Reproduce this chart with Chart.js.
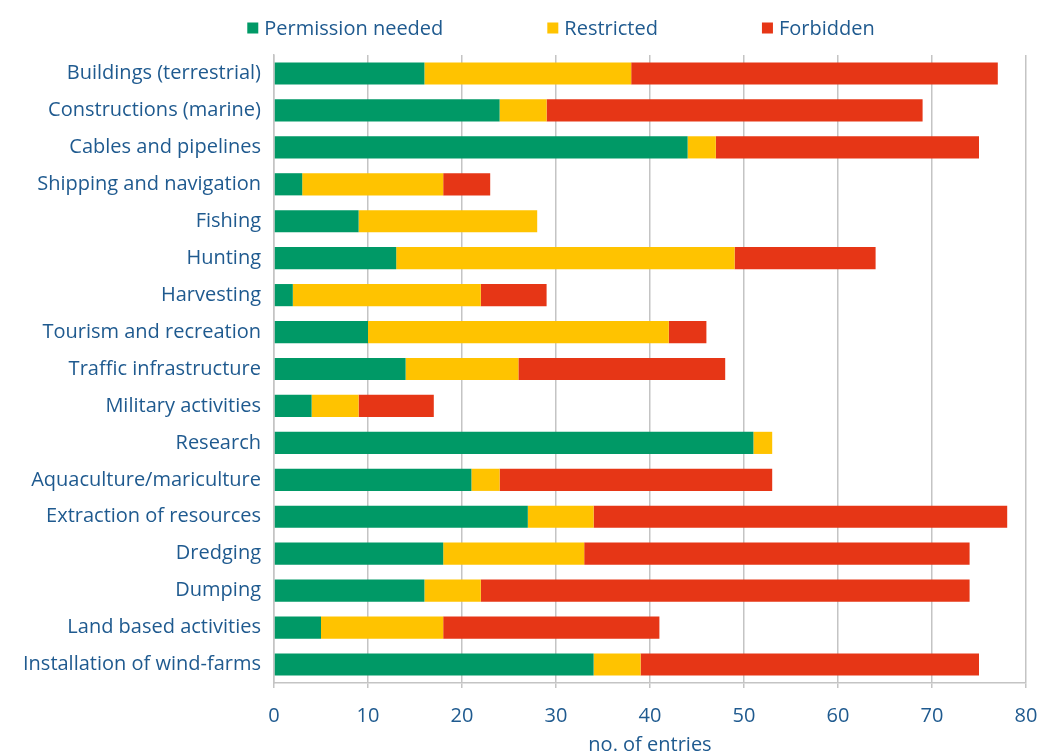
<!DOCTYPE html>
<html>
<head>
<meta charset="utf-8">
<script src="https://cdn.jsdelivr.net/npm/chart.js@4.4.1/dist/chart.umd.min.js"></script>
<style>
  html, body { margin: 0; padding: 0; background: #fff; overflow: hidden; }
  #wrap { width: 1041px; height: 751px; position: relative; }
</style>
</head>
<body>
<div id="wrap"><canvas id="chart"></canvas></div>
<script>
const categories = [
    "Buildings (terrestrial)",
    "Constructions (marine)",
    "Cables and pipelines",
    "Shipping and navigation",
    "Fishing",
    "Hunting",
    "Harvesting",
    "Tourism and recreation",
    "Traffic infrastructure",
    "Military activities",
    "Research",
    "Aquaculture/mariculture",
    "Extraction of resources",
    "Dredging",
    "Dumping",
    "Land based activities",
    "Installation of wind-farms"
];

const permissionNeeded = [16, 24, 44, 3, 9, 13, 2, 10, 14, 4, 51, 21, 27, 18, 16, 5, 34];
const restricted       = [22, 5, 3, 15, 19, 36, 20, 32, 12, 5, 2, 3, 7, 15, 6, 13, 5];
const forbidden        = [39, 40, 28, 5, 0, 15, 7, 4, 22, 8, 0, 29, 44, 41, 52, 23, 36];

const xTicks = [0, 10, 20, 30, 40, 50, 60, 70, 80];

const textColor = '#1f5a8f';
const gridColor = '#c4c4c4';
const fontFamily = '"Open Sans", "Noto Sans", sans-serif';
const fontSize = 20;

// legend with wide gaps between the items, drawn above the plot
const spacedLegend = {
    id: 'spacedLegend',
    afterDraw(chart) {
        const ctx = chart.ctx;
        const box = 11, textGap = 6, itemGap = 104, y = 28;
        ctx.save();
        ctx.font = fontSize + 'px ' + fontFamily;
        ctx.textBaseline = 'middle';
        const items = chart.data.datasets.map(ds => ({
            text: ds.label,
            color: ds.backgroundColor,
            w: box + textGap + ctx.measureText(ds.label).width
        }));
        const total = items.reduce((s, it) => s + it.w, 0) + itemGap * (items.length - 1);
        let x = 561 - total / 2;
        items.forEach(it => {
            ctx.fillStyle = it.color;
            ctx.fillRect(x, y - box / 2, box, box);
            ctx.fillStyle = textColor;
            ctx.fillText(it.text, x + box + textGap, y + 1);
            x += it.w + itemGap;
        });
        ctx.restore();
    }
};

new Chart(document.getElementById('chart'), {
    type: 'bar',
    data: {
        labels: categories,
        datasets: [
            { label: 'Permission needed', data: permissionNeeded, backgroundColor: '#009966' },
            { label: 'Restricted', data: restricted, backgroundColor: '#ffc300' },
            { label: 'Forbidden', data: forbidden, backgroundColor: '#e63616' }
        ]
    },
    plugins: [spacedLegend],
    options: {
        indexAxis: 'y',
        responsive: true,
        maintainAspectRatio: false,
        animation: false,
        barPercentage: 0.6,
        categoryPercentage: 1,
        layout: { padding: { left: 0, right: 0, top: 55, bottom: 0 } },
        plugins: {
            tooltip: { enabled: false },
            legend: { display: false }
        },
        scales: {
            x: {
                stacked: true,
                min: 0,
                max: 80,
                afterBuildTicks: (axis) => { axis.ticks = xTicks.map(v => ({ value: v })); },
                afterFit: (axis) => {
                    axis.height = 68;
                    axis.paddingLeft = 0;
                    axis.paddingRight = 15;
                },
                grid: { color: gridColor, lineWidth: 1.5, tickLength: 5, drawTicks: true },
                border: { color: gridColor, width: 1.5 },
                ticks: { color: textColor, font: { family: fontFamily, size: fontSize }, padding: 16, maxRotation: 0 },
                title: {
                    display: true,
                    text: 'no. of entries',
                    color: textColor,
                    font: { family: fontFamily, size: fontSize },
                    padding: { top: 5, bottom: -6 }
                }
            },
            y: {
                stacked: true,
                grid: { display: false },
                border: { color: gridColor, width: 1.5 },
                ticks: { color: textColor, font: { family: fontFamily, size: fontSize }, padding: 5 },
                afterFit: (axis) => { axis.width = 274; }
            }
        }
    }
});
</script>
</body>
</html>
